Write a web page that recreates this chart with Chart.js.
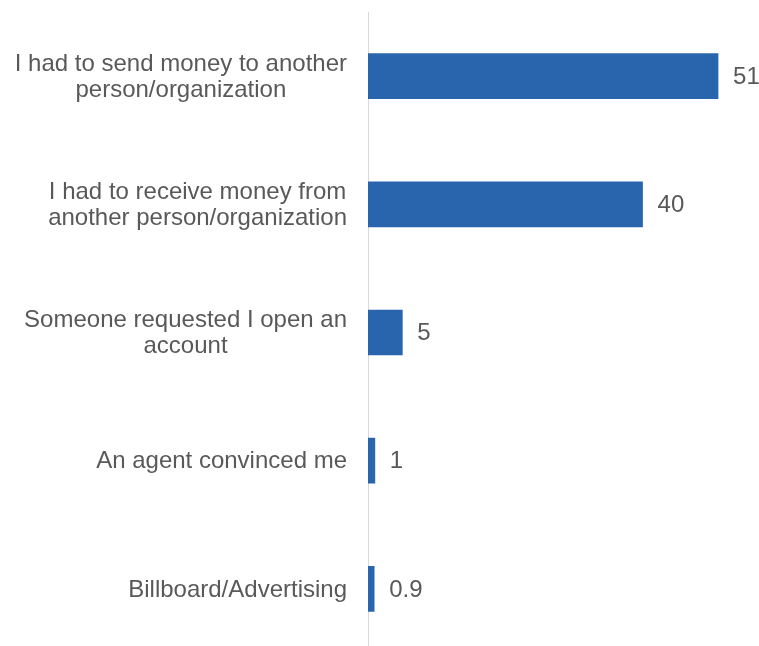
<!DOCTYPE html>
<html>
<head>
<meta charset="utf-8">
<script src="https://cdn.jsdelivr.net/npm/chart.js@4.4.1/dist/chart.umd.min.js"></script>
<style>
  html, body { margin: 0; padding: 0; background: #fff; overflow: hidden; }
  #wrap { width: 759px; height: 660px; }
</style>
</head>
<body>
<div id="wrap"><canvas id="chart" width="759" height="660"></canvas></div>
<script>
const ctx = document.getElementById('chart').getContext('2d');

const reasons = [
    ['I had to send money to another', 'person/organization'],
    ['I had to receive money from', 'another person/organization'],
    ['Someone requested I open an', 'account'],
    ['An agent convinced me'],
    ['Billboard/Advertising']
];
const shares = [51, 40, 5, 1, 0.9];
const valueLabels = ['51', '40', '5', '1', '0.9'];

const FONT = '24px "Liberation Sans", Arial, sans-serif';
const TEXT = '#595959';
const BLUE = '#2865ad';

// category labels: lines centred on each other, block right-aligned next to the axis
const reasonLabels = {
    id: 'reasonLabels',
    afterDraw(chart) {
        const y = chart.scales.y;
        const c = chart.ctx;
        c.save();
        c.font = FONT;
        c.fillStyle = TEXT;
        c.textAlign = 'center';
        c.textBaseline = 'middle';
        const lineH = 26;
        reasons.forEach((lines, i) => {
            const mid = y.getPixelForValue(i) + 1;
            const w = Math.max(...lines.map(l => c.measureText(l).width));
            const cx = y.right - 21 - w / 2;
            const top = mid - (lines.length - 1) * lineH / 2;
            lines.forEach((l, k) => c.fillText(l, cx, top + k * lineH));
        });
        c.restore();
    }
};

// value next to the end of each bar
const barValues = {
    id: 'barValues',
    afterDatasetsDraw(chart) {
        const c = chart.ctx;
        const meta = chart.getDatasetMeta(0);
        c.save();
        c.font = FONT;
        c.fillStyle = TEXT;
        c.textAlign = 'left';
        c.textBaseline = 'middle';
        meta.data.forEach((bar, i) => {
            c.fillText(valueLabels[i], bar.x + 15, bar.y + 1);
        });
        c.restore();
    }
};

new Chart(ctx, {
    type: 'bar',
    data: {
        labels: reasons.map(l => l.join(' ')),
        datasets: [{
            data: shares,
            backgroundColor: BLUE,
            barThickness: 45
        }]
    },
    options: {
        indexAxis: 'y',
        responsive: false,
        animation: false,
        layout: { padding: { top: 12, bottom: 7, left: 0, right: 13.5 } },
        plugins: {
            legend: { display: false },
            tooltip: { enabled: false }
        },
        scales: {
            x: {
                display: false,
                min: 0,
                max: 55
            },
            y: {
                grid: { display: false },
                border: { display: true, color: '#d9d9d9', width: 1 },
                ticks: { display: false },
                afterFit(scale) { scale.width = 368; }
            }
        }
    },
    plugins: [reasonLabels, barValues]
});
</script>
</body>
</html>
